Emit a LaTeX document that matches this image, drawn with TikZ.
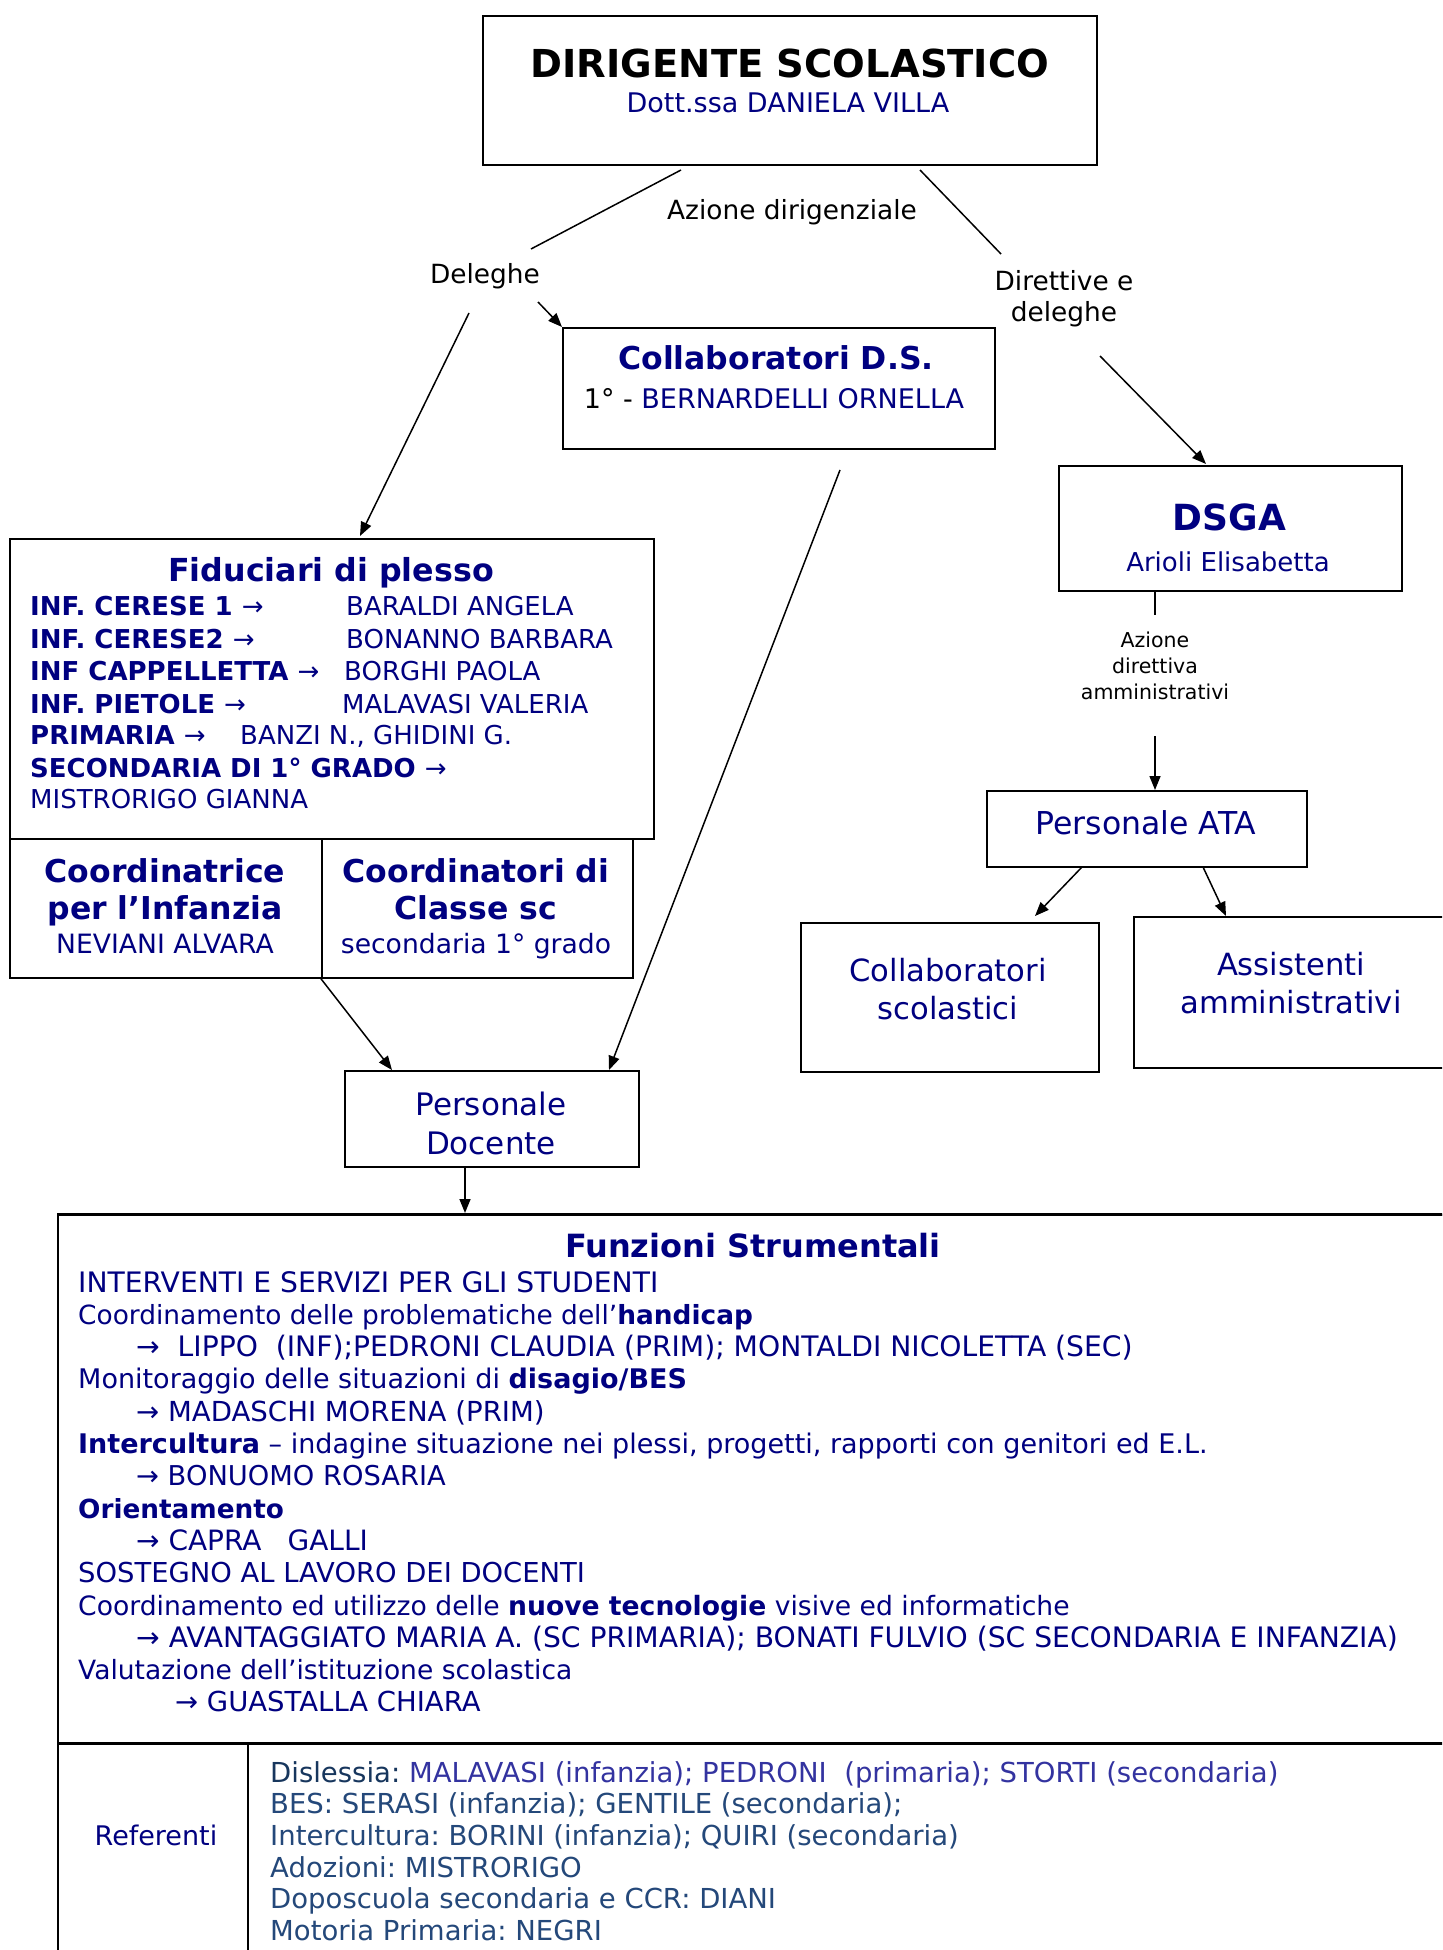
\documentclass[tikz,border=0pt]{standalone}
\usepackage{fontspec}
\setmainfont{DejaVu Sans}
\usetikzlibrary{arrows.meta}
\definecolor{navy}{RGB}{0,0,128}
\definecolor{refdark}{RGB}{23,54,93}
\definecolor{refblue}{RGB}{36,72,122}
\definecolor{refpurple}{RGB}{51,51,160}
\begin{document}
\frenchspacing
\begin{tikzpicture}[x=1pt,y=-1pt,
 box/.style={draw,line width=1.8pt,inner sep=0pt,anchor=north west},
 lbl/.style={inner sep=0pt,anchor=base},
 lw/.style={inner sep=0pt,anchor=base west},
 fz/.style={font=\fontsize{#1}{#1}\selectfont},
 fzb/.style={font=\fontsize{#1}{#1}\selectfont\bfseries},
 ln/.style={line width=1.5pt},
 arr/.style={line width=1.5pt,-{Triangle[length=14pt,width=11pt]}},
]
\useasboundingbox (0,0) rectangle (1442,1950);
\fill[white] (0,0) rectangle (1442,1950);
\clip (0,0) rectangle (1442,1950);

% ---------- boxes
\node[box,minimum width=614pt,minimum height=149pt] (ds) at (482,15) {};
\node[box,minimum width=432pt,minimum height=121pt] (cds) at (562,327) {};
\node[box,minimum width=644pt,minimum height=300pt] (fid) at (9,538) {};
\node[box,minimum width=312pt,minimum height=139pt] (cinf) at (9,838) {};
\node[box,minimum width=311pt,minimum height=139pt] (ccl) at (321,838) {};
\node[box,minimum width=294pt,minimum height=96pt] (pdoc) at (344,1070) {};
\node[box,minimum width=343pt,minimum height=125pt] (dsga) at (1058,465) {};
\node[box,minimum width=320pt,minimum height=76pt] (ata) at (986,790) {};
\node[box,minimum width=298pt,minimum height=149pt] (cscol) at (800,922) {};
\node[box,minimum width=340pt,minimum height=151pt] (assist) at (1133,916) {};
\node[box,minimum width=1420pt,minimum height=780pt] (funz) at (57,1214) {};
\draw[line width=3pt] (funz.north west) -- (funz.north east);
\coordinate (sepL) at (57,1743); \coordinate (sepR) at (1480,1743);
\draw[line width=3pt] (sepL) -- (sepR);
\coordinate (divT) at (248,1743); \coordinate (divB) at (248,1994);
\draw[line width=1.5pt] (divT) -- (divB);

% ---------- connectors
\coordinate (a1) at (681,170); \coordinate (a2) at (531,249);
\draw[ln] (a1) -- (a2);
\coordinate (b1) at (920,170); \coordinate (b2) at (1001,254);
\draw[ln] (b1) -- (b2);
\coordinate (c1) at (538,302);
\draw[arr] (c1) -- (cds.north west);
\coordinate (d1) at (469,313); \coordinate (d2) at (360,536);
\draw[arr] (d1) -- (d2);
\coordinate (e1) at (840,470); \coordinate (e2) at (609,1070);
\draw[arr] (e1) -- (e2);
\coordinate (f2) at (392,1070);
\draw[arr] (ccl.south west) -- (f2);
\coordinate (g1) at (465,1166); \coordinate (g2) at (465,1213);
\draw[arr] (g1) -- (g2);
\coordinate (h1) at (1100,356); \coordinate (h2) at (1206,464);
\draw[arr] (h1) -- (h2);
\coordinate (i1) at (1155,590); \coordinate (i2) at (1155,615);
\draw[ln] (i1) -- (i2);
\coordinate (j1) at (1155,736); \coordinate (j2) at (1155,790);
\draw[arr] (j1) -- (j2);
\coordinate (k1) at (1082,867); \coordinate (k2) at (1035,916);
\draw[arr] (k1) -- (k2);
\coordinate (l1) at (1203,867); \coordinate (l2) at (1226,916);
\draw[arr] (l1) -- (l2);

% ---------- top texts
\node[lbl,fzb=38.5] (tDS) at (790,78) {DIRIGENTE SCOLASTICO};
\node[lbl,fz=27,text=navy] (tDV) at (788,113) {Dott.ssa DANIELA VILLA};
\node[lbl,fz=26.4] (tAD) at (792,220) {Azione dirigenziale};
\node[lbl,fz=26.4] (tDel) at (485,284) {Deleghe};
\node[lbl,fz=26.4] (tDir1) at (1064,291) {Direttive e};
\node[lbl,fz=26.4] (tDir2) at (1064,322) {deleghe};

\node[lbl,fzb=31.5,text=navy] (tCDS) at (776,369) {Collaboratori D.S.};
\node[lbl,fz=27] (tCDS2) at (774,408) {1° - \textcolor{navy}{BERNARDELLI ORNELLA}};

% ---------- fiduciari
\node[lbl,fzb=31.7,text=navy] (tFid) at (331,581) {Fiduciari di plesso};
\node[lw,fzb=26,text=navy] (r1) at (30,615) {INF. CERESE 1 {\mdseries →}};
\node[lw,fz=26,text=navy] (n1) at (346,615) {BARALDI ANGELA};
\node[lw,fzb=26,text=navy] (r2) at (30,648) {INF. CERESE2 {\mdseries →}};
\node[lw,fz=26,text=navy] (n2) at (346,648) {BONANNO BARBARA};
\node[lw,fzb=26,text=navy] (r3) at (30,680) {INF CAPPELLETTA {\mdseries →}};
\node[lw,fz=26,text=navy] (n3) at (344,680) {BORGHI PAOLA};
\node[lw,fzb=26,text=navy] (r4) at (30,713) {INF. PIETOLE {\mdseries →}};
\node[lw,fz=26,text=navy] (n4) at (342,713) {MALAVASI VALERIA};
\node[lw,fzb=26,text=navy] (r5) at (30,744) {PRIMARIA {\mdseries →}};
\node[lw,fz=26,text=navy] (n5) at (240,744) {BANZI N., GHIDINI G.};
\node[lw,fzb=26,text=navy] (r6) at (30,777) {SECONDARIA DI 1° GRADO {\mdseries →}};
\node[lw,fz=26,text=navy] (r7) at (30,808) {MISTRORIGO GIANNA};

\node[lbl,fzb=31.5,text=navy] (tCi1) at (165,882) {Coordinatrice};
\node[lbl,fzb=31.5,text=navy] (tCi2) at (165,919) {per l’Infanzia};
\node[lbl,fz=26.6,text=navy] (tCi3) at (165,953) {NEVIANI ALVARA};
\node[lbl,fzb=31.5,text=navy] (tCc1) at (476,882) {Coordinatori di};
\node[lbl,fzb=31.5,text=navy] (tCc2) at (476,919) {Classe sc};
\node[lbl,fz=26.6,text=navy] (tCc3) at (476,953) {secondaria 1° grado};

\node[lbl,fz=31,text=navy] (tPD1) at (491,1115) {Personale};
\node[lbl,fz=31,text=navy] (tPD2) at (491,1154) {Docente};

% ---------- right side
\node[lbl,fzb=36,text=navy] (tDSGA) at (1229.5,530) {DSGA};
\node[lbl,fz=26,text=navy] (tAri) at (1228,571) {Arioli Elisabetta};
\node[lbl,fz=20.5] (tAz1) at (1155,647) {Azione};
\node[lbl,fz=20.5] (tAz2) at (1155,673.5) {direttiva};
\node[lbl,fz=20.5] (tAz3) at (1155,699) {amministrativi};
\node[lbl,fz=31.5,text=navy] (tATA) at (1146,834) {Personale ATA};
\node[lbl,fz=30.6,text=navy] (tCs1) at (948,981) {Collaboratori};
\node[lbl,fz=30.6,text=navy] (tCs2) at (948,1019.6) {scolastici};
\node[lbl,fz=30.6,text=navy] (tAs1) at (1291,975) {Assistenti};
\node[lbl,fz=30.6,text=navy] (tAs2) at (1291,1013.5) {amministrativi};

% ---------- funzioni strumentali
\node[lbl,fzb=32,text=navy] (tFS) at (753,1257) {Funzioni Strumentali};
\begin{scope}[every node/.style={lw,text=navy}]
\node[fz=28.2] (f0) at (78,1292) {INTERVENTI E SERVIZI PER GLI STUDENTI};
\node[fz=26.4] (f1) at (78,1324.3) {Coordinamento delle problematiche dell’\textbf{handicap}};
\node[fz=28.2] (f2x) at (136,1356.6) {→\ \ LIPPO\ \ (INF);PEDRONI CLAUDIA (PRIM); MONTALDI NICOLETTA (SEC)};
\node[fz=27] (f3) at (78,1388.9) {Monitoraggio delle situazioni di \textbf{disagio/BES}};
\node[fz=27.6] (f4) at (136,1421.2) {→ MADASCHI MORENA (PRIM)};
\node[fz=27] (f5) at (78,1453.5) {\textbf{Intercultura} – indagine situazione nei plessi, progetti, rapporti con genitori ed E.L.};
\node[fz=27.3] (f6) at (136,1485.8) {→ BONUOMO ROSARIA};
\node[fz=26.3] (f7) at (78,1518.1) {\textbf{Orientamento}};
\node[fz=28] (f8) at (136,1550.4) {→ CAPRA\hspace*{26pt}GALLI};
\node[fz=27.4] (f9) at (78,1582.7) {SOSTEGNO AL LAVORO DEI DOCENTI};
\node[fz=26.6] (f10) at (78,1615) {Coordinamento ed utilizzo delle \textbf{nuove tecnologie} visive ed informatiche};
\node[fz=28.2] (f11) at (136,1647.3) {→ AVANTAGGIATO MARIA A. (SC PRIMARIA); BONATI FULVIO (SC SECONDARIA E INFANZIA)};
\node[fz=26.5] (f12) at (78,1679.6) {Valutazione dell’istituzione scolastica};
\node[fz=27.5] (f13) at (175,1711.9) {→ GUASTALLA CHIARA};
\end{scope}

% ---------- referenti
\node[lbl,fz=27,text=navy] (tRef) at (156,1845) {Referenti};
\begin{scope}[every node/.style={lw,fz=27.5,text=refblue}]
\node (q0) at (270,1782) {\textcolor{refdark}{Dislessia:} \textcolor{refpurple}{MALAVASI (infanzia); PEDRONI\ \ (primaria); STORTI (secondaria)}};
\node (q1) at (270,1813.7) {BES: SERASI (infanzia); GENTILE (secondaria);};
\node (q2) at (270,1845.4) {Intercultura: BORINI (infanzia); QUIRI (secondaria)};
\node (q3) at (270,1877.1) {Adozioni: MISTRORIGO};
\node (q4) at (270,1908.8) {Doposcuola secondaria e CCR: DIANI};
\node (q5) at (270,1940.5) {Motoria Primaria: NEGRI};
\end{scope}
\end{tikzpicture}
\end{document}
